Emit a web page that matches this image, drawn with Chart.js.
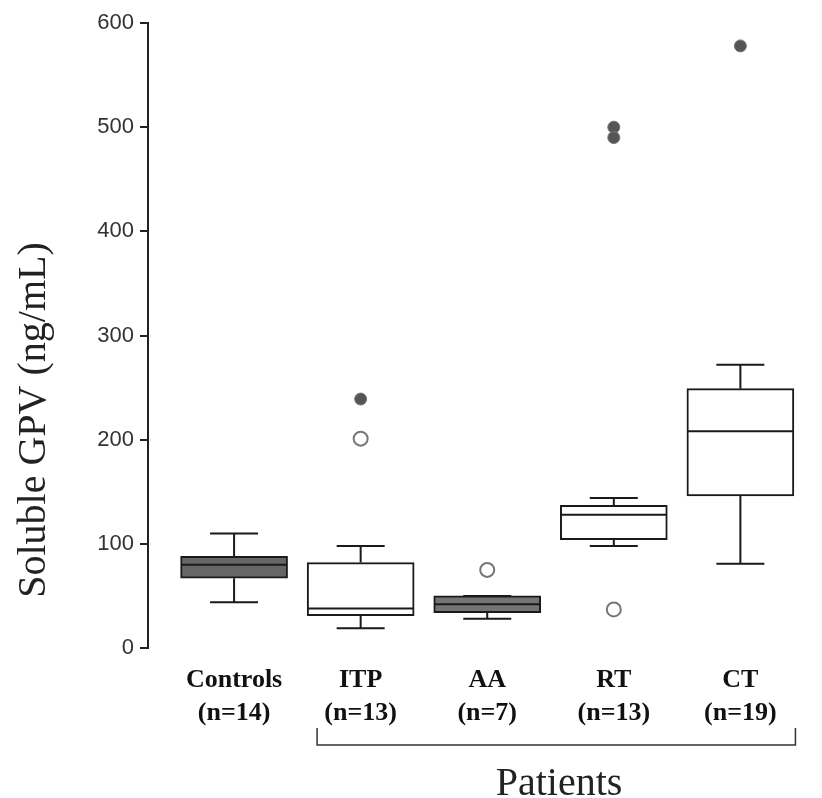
<!DOCTYPE html>
<html>
<head>
<meta charset="utf-8">
<script src="https://cdn.jsdelivr.net/npm/chart.js@4"></script>
<style>
  html, body { margin: 0; padding: 0; background: #fff; }
  #wrap { width: 822px; height: 798px; }
</style>
</head>
<body>
<div id="wrap"><canvas id="gpvChart" width="822" height="798"></canvas></div>
<script>
// groups and sample sizes
const groups = ["Controls", "ITP", "AA", "RT", "CT"];
const sizes = ["(n=14)", "(n=13)", "(n=7)", "(n=13)", "(n=19)"];

// box-plot statistics (ng/mL)
const whiskerLow = [44, 19, 28, 98, 81];
const q1 = [67, 31, 34, 104, 146];
const median = [80, 38, 42, 128, 208];
const q3 = [88, 82, 50, 137, 249];
const whiskerHigh = [110, 98, 50, 144, 272];

// outliers: filled = far out, open = mild
const farOut = [[2, 239], [4, 500], [4, 490], [5, 578]];
const mildOut = [[2, 201], [3, 75], [4, 37]];

const yTicks = [0, 100, 200, 300, 400, 500, 600];
const boxFill = ["#666666", "#ffffff", "#747474", "#ffffff", "#ffffff"];

const boxPlugin = {
  id: "boxParts",
  afterDatasetsDraw(chart) {
    const ctx = chart.ctx;
    const x = chart.scales.x, y = chart.scales.y;
    const halfBox = 53, halfCap = 24;
    ctx.save();
    ctx.strokeStyle = "#1a1a1a";
    ctx.lineWidth = 2;
    groups.forEach((g, i) => {
      const cx = x.getPixelForValue(i + 1);
      ctx.beginPath();
      // whiskers
      ctx.moveTo(cx, y.getPixelForValue(q3[i]));
      ctx.lineTo(cx, y.getPixelForValue(whiskerHigh[i]));
      ctx.moveTo(cx, y.getPixelForValue(q1[i]));
      ctx.lineTo(cx, y.getPixelForValue(whiskerLow[i]));
      // caps
      ctx.moveTo(cx - halfCap, y.getPixelForValue(whiskerHigh[i]));
      ctx.lineTo(cx + halfCap, y.getPixelForValue(whiskerHigh[i]));
      ctx.moveTo(cx - halfCap, y.getPixelForValue(whiskerLow[i]));
      ctx.lineTo(cx + halfCap, y.getPixelForValue(whiskerLow[i]));
      // median
      ctx.moveTo(cx - halfBox, y.getPixelForValue(median[i]));
      ctx.lineTo(cx + halfBox, y.getPixelForValue(median[i]));
      ctx.stroke();
    });

    // bracket under the patient groups
    const left = x.getPixelForValue(1.656), right = x.getPixelForValue(5.435);
    const top = 728, bottom = 745;
    ctx.lineWidth = 1.5;
    ctx.strokeStyle = "#333";
    ctx.beginPath();
    ctx.moveTo(left, top);
    ctx.lineTo(left, bottom);
    ctx.lineTo(right, bottom);
    ctx.lineTo(right, top);
    ctx.stroke();
    ctx.fillStyle = "#222";
    ctx.font = "40px 'Liberation Serif', serif";
    ctx.textAlign = "center";
    ctx.textBaseline = "alphabetic";
    ctx.fillText("Patients", 559, 795);

    // y-axis title
    ctx.translate(34, 420);
    ctx.rotate(-Math.PI / 2);
    ctx.textBaseline = "middle";
    ctx.fillText("Soluble GPV (ng/mL)", 0, 0);
    ctx.restore();
  }
};

const ctx = document.getElementById("gpvChart").getContext("2d");
new Chart(ctx, {
  type: "bar",
  data: {
    datasets: [
      {
        type: "bar",
        label: "box",
        data: groups.map((g, i) => ({ x: i + 1, y: [q1[i], q3[i]] })),
        backgroundColor: boxFill,
        borderColor: "#1a1a1a",
        borderWidth: 2,
        borderSkipped: false,
        barThickness: 107,
        grouped: false,
        order: 2
      },
      {
        type: "scatter",
        label: "far",
        data: farOut.map(p => ({ x: p[0], y: p[1] })),
        pointRadius: 6,
        pointBackgroundColor: "#555",
        pointBorderColor: "#777",
        pointBorderWidth: 1,
        order: 1
      },
      {
        type: "scatter",
        label: "mild",
        data: mildOut.map(p => ({ x: p[0], y: p[1] })),
        pointRadius: 7,
        pointBackgroundColor: "#fff",
        pointBorderColor: "#777",
        pointBorderWidth: 2,
        order: 1
      }
    ]
  },
  options: {
    responsive: false,
    animation: false,
    layout: { padding: { top: 23, right: 12 } },
    plugins: { legend: { display: false }, tooltip: { enabled: false } },
    scales: {
      x: {
        type: "linear",
        offset: false,
        min: 0.32,
        max: 5.55,
        grid: { display: false, drawTicks: false },
        border: { display: false },
        afterBuildTicks(scale) {
          scale.ticks = groups.map((g, i) => ({ value: i + 1 }));
        },
        afterFit(scale) { scale.height = 150; },
        ticks: {
          padding: 15,
          autoSkip: false,
          maxRotation: 0,
          color: "#111",
          font: { family: "'Liberation Serif', serif", size: 26, weight: "bold", lineHeight: 1.3 },
          callback: (v) => [groups[v - 1], sizes[v - 1]]
        }
      },
      y: {
        min: 0,
        max: 600,
        afterBuildTicks(scale) {
          scale.ticks = yTicks.map(v => ({ value: v }));
        },
        afterFit(scale) { scale.width = 148; },
        grid: { drawOnChartArea: false, drawTicks: true, tickLength: 8, color: "#222", lineWidth: 2 },
        border: { display: true, color: "#222", width: 2 },
        ticks: {
          padding: 6,
          color: "#333",
          font: { family: "'Liberation Sans', Arial, sans-serif", size: 22 }
        }
      }
    }
  },
  plugins: [boxPlugin]
});
</script>
</body>
</html>
